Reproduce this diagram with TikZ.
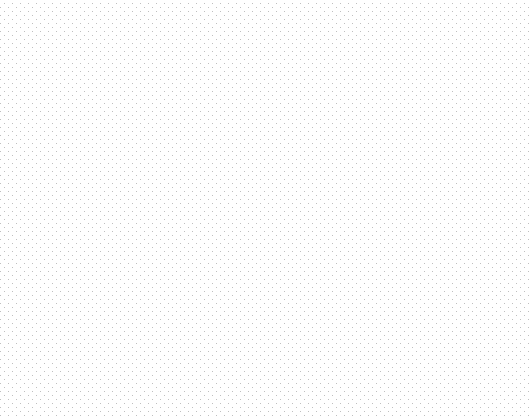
\documentclass[tikz,border=0pt]{standalone}
\begin{document}
\begin{tikzpicture}[x=1pt,y=1pt,
  dotrow/.style={draw=black!25,line width=0.9pt,dash pattern=on 0.9pt off 7.1pt}]
\fill[white] (0,0) rectangle (532,417);
\useasboundingbox (0,0) rectangle (532,417);
\foreach \i in {0,...,103}{
  \pgfmathsetmacro{\yy}{417-3.3-4*\i}
  \pgfmathsetmacro{\xx}{mod(\i,2)==0 ? 4.25 : 0.25}
  \draw[dotrow] (\xx,\yy) -- (532,\yy);
}
\end{tikzpicture}
\end{document}
